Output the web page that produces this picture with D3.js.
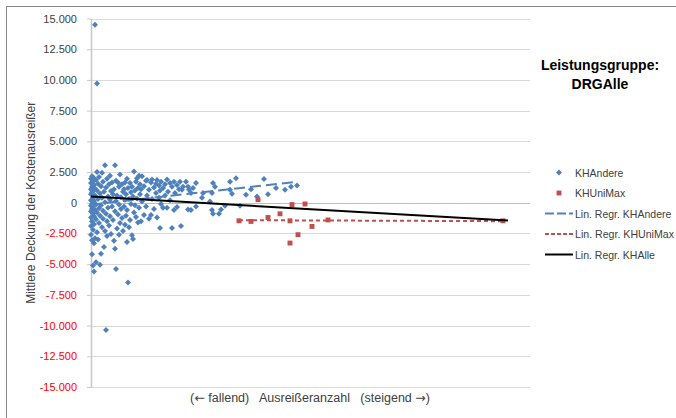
<!DOCTYPE html>
<html>
<head>
<meta charset="utf-8">
<script src="https://cdn.jsdelivr.net/npm/d3@7"></script>
<style>
  body { margin: 0; background: #fff; }
  svg { font-family: "Liberation Sans", Arial, sans-serif; }
</style>
</head>
<body>
<div id="chart"></div>
<script>
// y axis ticks
var yTicks = [-15000, -12500, -10000, -7500, -5000, -2500, 0, 2500, 5000, 7500, 10000, 12500, 15000];

// KHAndere points: [rank position, mean coverage]
var khAndere = [
  [0,1950],[0,1600],[0,1100],[0,700],[0,200],[0,-250],[0,-700],[0,-1200],[0,-1900],[0,-2600],
  [1,2150],[1,1300],[1,850],[1,-100],[1,-500],[1,-1500],[1,-3050],[1,-4200],
  [2,1750],[2,950],[2,400],[2,-350],[2,-900],[2,-2200],[2,-5100],
  [3,2000],[3,1450],[3,150],[3,-1100],[3,-1750],[3,-3300],[3,-5600],
  [4,14500],[4,1150],[4,600],[4,-600],[4,-2900],
  [5,1850],[5,-150],[5,-1350],[5,-4850],
  [6,9700],[6,2500],[6,1000],[6,-800],[6,-2400],
  [7,1550],[7,300],[7,-3000],
  [8,2100],[8,-450],[8,-1650],
  [9,750],[9,-5050],[9,-1050],
  [10,1350],[10,-4150],[10,-200],
  [11,2450],[11,400],[11,-2000],
  [12,1700],[12,-650],[12,-1300],
  [13,900],[13,-3600],
  [14,3050],[14,50],[14,-2300],
  [15,-10350],[15,1250],[15,-900],
  [16,1950],[16,-1500],[16,-2700],
  [17,500],[17,-400],
  [18,1500],[18,-1850],
  [19,2200],[19,-1100],[19,250],
  [20,950],[20,-2550],
  [21,-300],[21,1650],
  [22,-1400],[22,700],
  [23,-3100],[23,1100],
  [24,3050],[24,-3750],[24,-700],
  [25,-5400],[25,1800],[25,150],
  [26,-2100],[26,600],
  [27,1650],[27,-950],
  [28,-2600],[28,1300],[28,-150],
  [29,2300],[29,-1650],
  [30,450],[30,-500],
  [31,1500],[31,-1250],
  [32,-2300],[32,900],
  [33,1100],[33,-300],
  [34,-1800],[34,1650],[34,250],
  [35,-1050],[35,700],
  [36,-3200],[36,1950],[36,-600],
  [37,-6500],[37,1200],
  [38,300],[38,-2000],
  [39,1600],[39,-1400],
  [40,-100],[40,850],
  [41,-2650],[41,1300],
  [42,-2950],[42,500],
  [43,2550],[43,-800],
  [44,1000],[44,-200],
  [45,1700],[45,-1150],
  [46,2000],[46,350],
  [47,-1600],[47,1200],
  [48,2200],[48,-400],
  [49,700],[49,1500],
  [50,-1500],[50,1100],
  [51,2150],[51,100],
  [53,-1000],[53,1350],
  [55,1800],[55,-300],
  [56,1850],[56,600],
  [58,-1300],[58,1050],
  [60,1650],[60,-1000],
  [61,1900],[61,300],
  [63,-500],[63,1250],
  [65,1550],[65,800],
  [66,-1200],[66,1850],
  [68,400],[68,1400],
  [69,1000],[69,-2050],
  [70,1700],[70,-100],
  [72,1200],[72,-400],
  [74,1500],[74,600],
  [76,-400],[76,1900],
  [77,900],
  [79,1600],[79,200],
  [81,1300],[81,-2050],
  [83,1700],[83,-600],
  [84,800],
  [86,1450],[86,-350],
  [88,1100],[89,1700],
  [90,-1900],[91,1050],
  [92,1300],
  [95,1700],
  [97,1300],[97,-550],
  [98,1050],
  [100,800],[100,-600],
  [102,1200],
  [105,-300],[105,1600],
  [111,400],[112,800],
  [119,100],[121,-600],[121,800],[122,1600],[122,-900],[124,1300],
  [128,-900],[130,-550],
  [134,-250],
  [139,1700],[139,1050],[141,730],
  [145,2000],
  [149,-250],
  [155,650],
  [160,1100],
  [166,500],
  [173,1930],
  [177,700],
  [185,1200],
  [194,1050],
  [200,1300],
  [206,1400]
];

// KHUniMax points
var khUniMax = [
  [148,-1470],[160,-1520],[167,250],[177,-1200],[189,-900],[199,-1470],[199,-3280],
  [201,-150],[207,-2600],[214,-100],[221,-1930],[237,-1400],[412,-1470]
];

// regression lines (start, end)
var regAndere = [[0,-150],[206,1710]];
var regUniMax = [[148,-1420],[412,-1500]];
var regAlle = [[0,500],[417,-1440]];

var W = 676, H = 418;
var svg = d3.select("#chart").append("svg").attr("width", W).attr("height", H);

// outer frame
svg.append("rect").attr("x", 6.5).attr("y", 6.5).attr("width", 720).attr("height", 500)
  .attr("fill", "none").attr("stroke", "#868686").attr("stroke-width", 1);

var x = d3.scaleLinear().domain([0, 439]).range([91, 530]);
var y = d3.scaleLinear().domain([-15000, 15000]).range([387, 18.5]);

var de = d3.formatLocale({decimal: ",", thousands: ".", grouping: [3], currency: ["", " €"], minus: "-"});
var fmt = de.format(",.0f");

// gridlines
svg.append("g").selectAll("line").data(yTicks).join("line")
  .attr("x1", 91).attr("x2", 530)
  .attr("y1", d => Math.round(y(d)) + 0.5).attr("y2", d => Math.round(y(d)) + 0.5)
  .attr("stroke", "#d9d9d9").attr("stroke-width", 1);

// y axis
var yAxis = svg.append("g").attr("transform", "translate(91,0)")
  .call(d3.axisLeft(y).tickValues(yTicks).tickFormat(fmt).tickSize(4).tickPadding(10).tickSizeOuter(0));
yAxis.select(".domain").attr("stroke", "#c8c8c8").attr("stroke-width", 1.5);
yAxis.selectAll(".tick line").attr("stroke", "#c8c8c8");
yAxis.selectAll(".tick text")
  .attr("font-family", "Liberation Sans, Arial, sans-serif").attr("font-size", 11)
  .attr("fill", d => d < 0 ? "#ff0000" : "#404040");

// x axis line at zero
svg.append("line").attr("x1", 91).attr("x2", 530)
  .attr("y1", Math.round(y(0)) + 0.5).attr("y2", Math.round(y(0)) + 0.5)
  .attr("stroke", "#bfbfbf").attr("stroke-width", 1);

// axis titles
svg.append("text").attr("transform", "translate(35," + y(0) + ") rotate(-90)")
  .attr("text-anchor", "middle").attr("font-size", 12).attr("fill", "#404040")
  .text("Mittlere Deckung der Kostenausreißer");
var xt = svg.append("text").attr("x", 310).attr("y", 402).attr("text-anchor", "middle")
  .attr("font-size", 12.5).attr("fill", "#404040").attr("xml:space", "preserve");
xt.append("tspan").text("(");
xt.append("tspan").attr("font-family", "DejaVu Sans").text("\u2190");
xt.append("tspan").text(" fallend)   Ausreißeranzahl   (steigend ");
xt.append("tspan").attr("font-family", "DejaVu Sans").text("\u2192");
xt.append("tspan").text(")");

var blue = "#4f81bd", red = "#c0504d";
var diamond = d3.symbol().type(d3.symbolSquare).size(18);
var square = d3.symbol().type(d3.symbolSquare).size(24);

// points
svg.append("g").selectAll("path").data(khAndere).join("path")
  .attr("d", diamond)
  .attr("transform", d => "translate(" + x(d[0]) + "," + y(d[1]) + ") rotate(45)")
  .attr("fill", blue);
svg.append("g").selectAll("path").data(khUniMax).join("path")
  .attr("d", square)
  .attr("transform", d => "translate(" + x(d[0]) + "," + y(d[1]) + ")")
  .attr("fill", red);

// regression lines
var line = d3.line().x(d => x(d[0])).y(d => y(d[1]));
svg.append("path").datum(regAndere).attr("d", line).attr("fill", "none")
  .attr("stroke", blue).attr("stroke-width", 2).attr("stroke-dasharray", "11,5");
svg.append("path").datum(regUniMax).attr("d", line).attr("fill", "none")
  .attr("stroke", red).attr("stroke-width", 2).attr("stroke-dasharray", "4,3");
svg.append("path").datum(regAlle).attr("d", line).attr("fill", "none")
  .attr("stroke", "#000").attr("stroke-width", 2);

// title
var title = svg.append("text").attr("text-anchor", "middle").attr("font-weight", "bold")
  .attr("font-size", 14).attr("fill", "#000");
title.append("tspan").attr("x", 600).attr("y", 70).text("Leistungsgruppe:");
title.append("tspan").attr("x", 600).attr("y", 89).text("DRGAlle");

// legend
var legend = [
  {name: "KHAndere", kind: "diamond", color: blue},
  {name: "KHUniMax", kind: "square", color: red},
  {name: "Lin. Regr. KHAndere", kind: "line", color: blue, dash: "9,3"},
  {name: "Lin. Regr. KHUniMax", kind: "line", color: red, dash: "4,2"},
  {name: "Lin. Regr. KHAlle", kind: "line", color: "#000", dash: null}
];
var lg = svg.append("g").selectAll("g").data(legend).join("g")
  .attr("transform", (d, i) => "translate(0," + (172.5 + i * 20.5) + ")");
lg.filter(d => d.kind === "diamond").append("path").attr("d", diamond)
  .attr("transform", "translate(559,0) rotate(45)").attr("fill", d => d.color);
lg.filter(d => d.kind === "square").append("path").attr("d", square)
  .attr("transform", "translate(559,0)").attr("fill", d => d.color);
lg.filter(d => d.kind === "line").append("line")
  .attr("x1", 545).attr("x2", 573).attr("y1", 0).attr("y2", 0)
  .attr("stroke", d => d.color).attr("stroke-width", 2)
  .attr("stroke-dasharray", d => d.dash);
lg.append("text").attr("x", 575).attr("y", 4).attr("font-size", 10.5).attr("fill", "#404040")
  .attr("textLength", d => d.name === "Lin. Regr. KHUniMax" ? 99 : null)
  .attr("lengthAdjust", "spacingAndGlyphs")
  .text(d => d.name);
</script>
</body>
</html>
